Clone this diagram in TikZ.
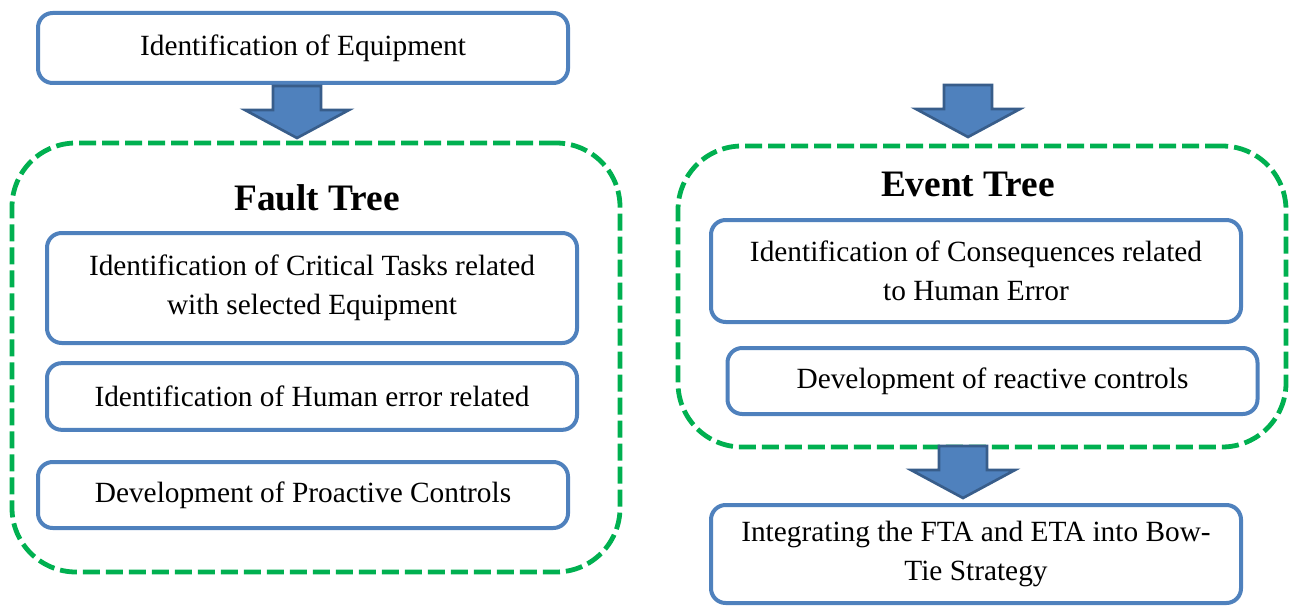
\documentclass[tikz,border=0pt]{standalone}
\usepackage{fontspec}
\setmainfont{Liberation Serif}
\definecolor{boxblue}{HTML}{4F81BD}
\definecolor{arrowedge}{HTML}{385D8A}
\definecolor{treegreen}{HTML}{00B050}

\begin{document}
\begin{tikzpicture}[x=0.75pt,y=-0.75pt]
    \tikzstyle{stepbox}=[rectangle,draw=boxblue,line width=3pt,rounded corners=11pt,fill=white,
      minimum width=397.5pt,align=center,font=\fontsize{22}{29}\selectfont]
    \tikzstyle{treebox}=[rectangle,draw=treegreen,line width=3.6pt,dash pattern=on 12.75pt off 4.5pt,
      rounded corners=48pt,minimum width=456pt]
    \tikzstyle{treetitle}=[font=\fontsize{28}{34}\selectfont\bfseries]
    \tikzset{blockarrow/.pic={
      \draw[fill=boxblue,draw=arrowedge,line width=2pt,line join=miter]
        (-24,0) -- (24,0) -- (24,24) -- (52,24) -- (0,52) -- (-52,24) -- (-24,24) -- cycle;
    }}
    \useasboundingbox (0,0) rectangle (1291,606);

    \node[treebox,minimum height=321.75pt] (fault) at (316,357.5) {};
    \node[treebox,minimum height=225.75pt] (event) at (982,296.5) {};

    \node[stepbox,minimum height=52.5pt] (equip) at (303,48) {Identification of Equipment};
    \node[treetitle] (faulttitle) at (317,198) {Fault Tree};
    \node[stepbox,minimum height=82.5pt] (crit) at (312,288) {Identification of Critical Tasks related\\with selected Equipment};
    \node[stepbox,minimum height=50pt] (human) at (312,396.5) {Identification of Human error related};
    \node[stepbox,minimum height=49.5pt] (proact) at (303,495) {Development of Proactive Controls};

    \node[treetitle] (eventtitle) at (968,184) {Event Tree};
    \node[stepbox,minimum height=76.5pt] (conseq) at (976,271) {Identification of Consequences related\\to Human Error};
    \node[stepbox,minimum height=49.5pt] (reactive) at (992.5,381) {Development of reactive controls};
    \node[stepbox,minimum height=73.5pt] (bowtie) at (976,554) {Integrating the FTA and ETA into Bow-\\Tie Strategy};

    \coordinate (a1) at (297,86);
    \coordinate (a2) at (968,85);
    \coordinate (a3) at (963,446);
    \pic at (a1) {blockarrow};
    \pic at (a2) {blockarrow};
    \pic at (a3) {blockarrow};
\end{tikzpicture}
\end{document}
